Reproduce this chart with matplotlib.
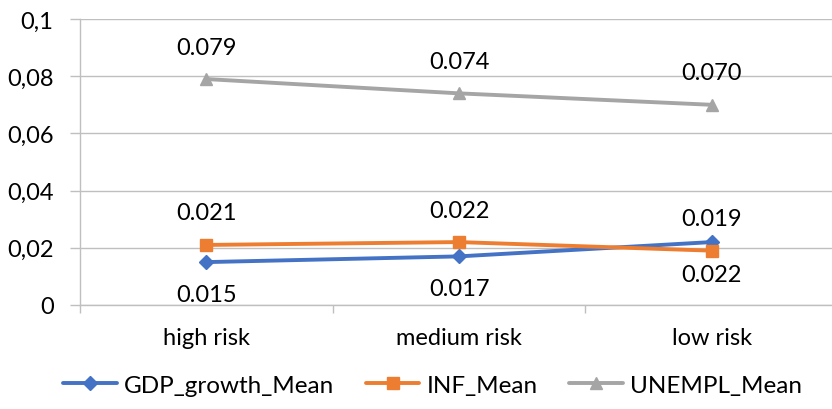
import matplotlib
matplotlib.use("Agg")
import matplotlib.pyplot as plt
from matplotlib.ticker import FixedLocator

plt.rcParams['font.family'] = ['Lato', 'DejaVu Sans']

categories = ["high risk", "medium risk", "low risk"]
gdp = [0.015, 0.017, 0.022]
inf = [0.021, 0.022, 0.019]
unempl = [0.079, 0.074, 0.070]
yticks = [0, 0.02, 0.04, 0.06, 0.08, 0.1]
ytick_labels = ["0", "0,02", "0,04", "0,06", "0,08", "0,1"]

FS = 17

fig = plt.figure(figsize=(8.32, 4.10), dpi=100)
ax = fig.add_axes([80/832, 1-306/410, (838-80)/832, (306-20)/410])
x = list(range(len(categories)))

series = [
    ("GDP_growth_Mean", gdp, "#4472C4", "D", 7, -1),
    ("INF_Mean", inf, "#ED7D31", "s", 8, 1),
    ("UNEMPL_Mean", unempl, "#A5A5A5", "^", 9, 1),
]
for name, vals, col, mk, ms, side in series:
    ax.plot(x, vals, color=col, lw=2.8, marker=mk, markersize=ms, label=name, solid_capstyle='round')
    for xi, v in zip(x, vals):
        ax.annotate(f"{v:.3f}", (xi, v), xytext=(0, 32*side), textcoords='offset pixels',
                    ha='center', va='center', fontsize=FS, color='#000000')

ax.set_xlim(-0.5, 2.5)
ax.set_ylim(0, 0.1)
ax.set_yticks(yticks)
ax.set_yticklabels(ytick_labels, fontsize=FS)
ax.set_xticks(x)
ax.set_xticklabels(categories, fontsize=FS)
ax.xaxis.set_minor_locator(FixedLocator([-0.5, 0.5, 1.5, 2.5]))
ax.tick_params(axis='x', which='major', length=0, pad=16)
ax.tick_params(axis='x', which='minor', length=6, color='#BFBFBF', width=1)
ax.tick_params(axis='y', length=7, color='#BFBFBF', width=1, pad=12)
ax.grid(axis='y', color='#BFBFBF', lw=1)
ax.set_axisbelow(True)
for s in ['top', 'right']:
    ax.spines[s].set_visible(False)
for s in ['left', 'bottom']:
    ax.spines[s].set_color('#BFBFBF')
    ax.spines[s].set_linewidth(1)

fig.legend(loc='center', bbox_to_anchor=(0.52, 1-386/410), ncol=3, frameon=False,
           fontsize=17.5, handlelength=2.2, columnspacing=1.3, handletextpad=0.3)
fig.savefig("out.png", dpi=100)
